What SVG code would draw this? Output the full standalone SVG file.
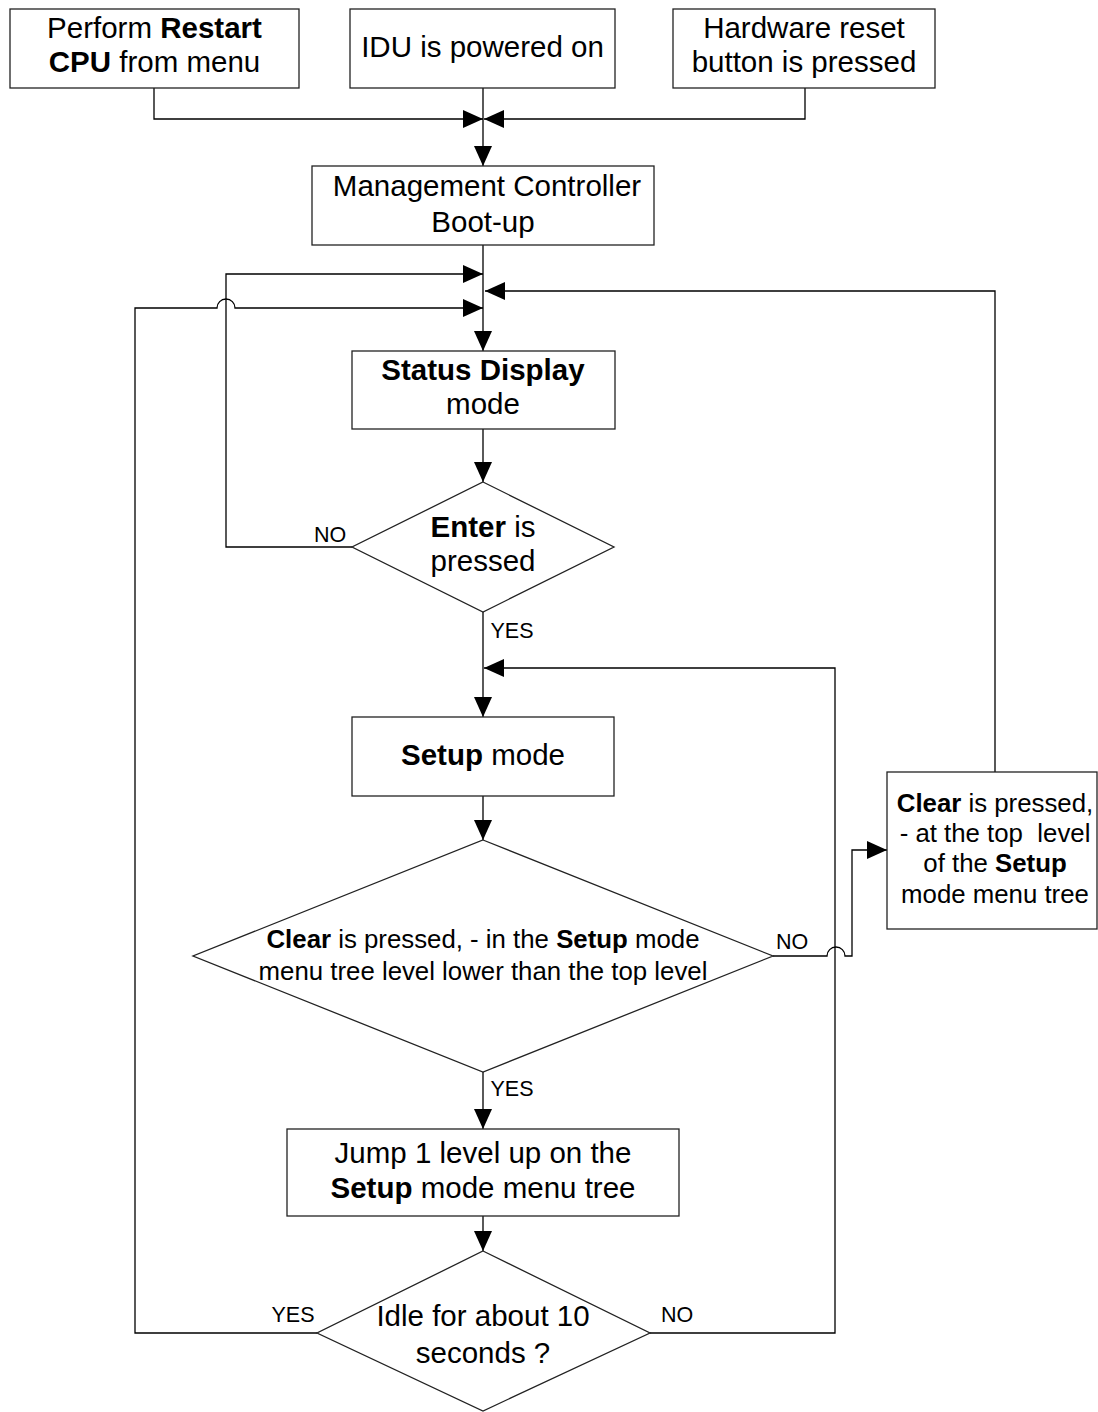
<svg xmlns="http://www.w3.org/2000/svg" width="1098" height="1412" viewBox="0 0 1098 1412">
<style>
.box{fill:#fff;stroke:#222;stroke-width:1.3}
.ln{fill:none;stroke:#000;stroke-width:1.3}
text{font-family:"Liberation Sans",Arial,sans-serif;fill:#000;text-anchor:middle}
.t{font-size:29.5px}
.s{font-size:25.8px}
.l{font-size:21.5px}
.b{font-weight:bold}
</style>
<defs>
<marker id="ah" markerUnits="userSpaceOnUse" markerWidth="20" markerHeight="18" refX="20" refY="9" orient="auto">
<path d="M0,0 L20,9 L0,18 z" fill="#000"/>
</marker>
</defs>
<g id="connectors">
<path class="ln" d="M154,88 V119 H483" marker-end="url(#ah)"/>
<path class="ln" d="M805,88 V119 H484" marker-end="url(#ah)"/>
<path class="ln" d="M483,88 V166" marker-end="url(#ah)"/>
<path class="ln" d="M483,245 V351" marker-end="url(#ah)"/>
<path class="ln" d="M352,547 H226 V274 H483" marker-end="url(#ah)"/>
<path class="ln" d="M317,1333 H135 V308 H217 A9,9 0 0 1 235,308 H483" marker-end="url(#ah)"/>
<path class="ln" d="M995,772 V291 H485" marker-end="url(#ah)"/>
<path class="ln" d="M483,429 V482" marker-end="url(#ah)"/>
<path class="ln" d="M483,612 V717" marker-end="url(#ah)"/>
<path class="ln" d="M650,1333 H835 V668 H484" marker-end="url(#ah)"/>
<path class="ln" d="M483,796 V840" marker-end="url(#ah)"/>
<path class="ln" d="M773,956 H827 A9,9 0 0 1 845,956 H852 V850 H887" marker-end="url(#ah)"/>
<path class="ln" d="M483,1072 V1129" marker-end="url(#ah)"/>
<path class="ln" d="M483,1216 V1251" marker-end="url(#ah)"/>
<text class="l" x="330" y="542">NO</text>
<text class="l" x="512" y="638">YES</text>
<text class="l" x="792" y="949">NO</text>
<text class="l" x="512" y="1096">YES</text>
<text class="l" x="293" y="1322">YES</text>
<text class="l" x="677" y="1322">NO</text>
</g>
<g id="restart">
<rect class="box" x="10" y="9" width="289" height="79"/>
<text class="t" x="154.5" y="38">Perform <tspan class="b">Restart</tspan></text>
<text class="t" x="154.5" y="72"><tspan class="b">CPU</tspan> from menu</text>
</g>
<g id="powered">
<rect class="box" x="350" y="9" width="265" height="79"/>
<text class="t" x="482.5" y="57">IDU is powered on</text>
</g>
<g id="reset">
<rect class="box" x="673" y="9" width="262" height="79"/>
<text class="t" x="804" y="38">Hardware reset</text>
<text class="t" x="804" y="72">button is pressed</text>
</g>
<g id="mgmt">
<rect class="box" x="312" y="166" width="342" height="79"/>
<text class="t" x="487" y="196">Management Controller</text>
<text class="t" x="483" y="232">Boot-up</text>
</g>
<g id="status">
<rect class="box" x="352" y="351" width="263" height="78"/>
<text class="t b" x="483" y="380">Status Display</text>
<text class="t" x="483" y="414">mode</text>
</g>
<g id="enter">
<polygon class="box" points="483,482 614,547 483,612 352,547"/>
<text class="t" x="483" y="537"><tspan class="b">Enter</tspan> is</text>
<text class="t" x="483" y="571">pressed</text>
</g>
<g id="setup">
<rect class="box" x="352" y="717" width="262" height="79"/>
<text class="t" x="483" y="765"><tspan class="b">Setup</tspan> mode</text>
</g>
<g id="clear-lower">
<polygon class="box" points="483,840 773,956 483,1072 193,956"/>
<text class="s" x="483" y="948"><tspan class="b">Clear</tspan> is pressed, - in the <tspan class="b">Setup</tspan> mode</text>
<text class="s" x="483" y="980">menu tree level lower than the top level</text>
</g>
<g id="clear-top">
<rect class="box" x="887" y="772" width="210" height="157"/>
<text class="s" x="995" y="812"><tspan class="b">Clear</tspan> is pressed,</text>
<text class="s" x="995" y="842" xml:space="preserve">- at the top  level</text>
<text class="s" x="995" y="872">of the <tspan class="b">Setup</tspan></text>
<text class="s" x="995" y="903">mode menu tree</text>
</g>
<g id="jump">
<rect class="box" x="287" y="1129" width="392" height="87"/>
<text class="t" x="483" y="1163">Jump 1 level up on the</text>
<text class="t" x="483" y="1198"><tspan class="b">Setup</tspan> mode menu tree</text>
</g>
<g id="idle">
<polygon class="box" points="483,1251 650,1333 483,1411 317,1333"/>
<text class="t" x="483" y="1326">Idle for about 10</text>
<text class="t" x="483" y="1363">seconds ?</text>
</g>
</svg>
